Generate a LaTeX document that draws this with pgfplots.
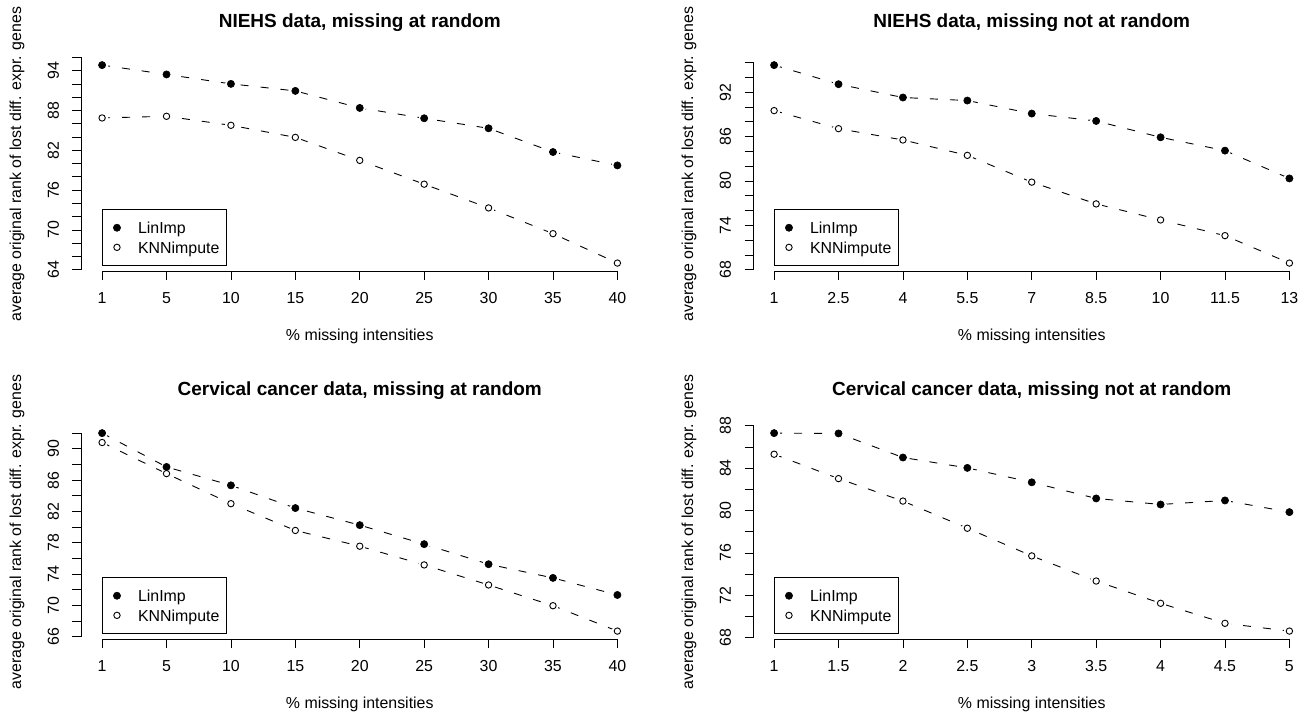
\documentclass[border=0pt]{standalone}
\usepackage{fontspec}
\setmainfont{Liberation Sans}
\usepackage{pgfplots}
\usepackage{pgfplotstable}
\pgfplotsset{compat=1.18}
\newcommand\tf{\fontsize{15.9bp}{19bp}\selectfont}

\pgfplotstableread{
x lin knn
0 94.86 86.89
1 93.45 87.14
2 92.03 85.78
3 90.97 83.96
4 88.40 80.49
5 86.84 76.90
6 85.33 73.32
7 81.75 69.44
8 79.73 65.00
}\tA
\pgfplotstableread{
x lin knn
0 95.66 89.51
1 93.08 87.07
2 91.28 85.54
3 90.87 83.46
4 89.11 79.84
5 88.11 76.90
6 85.90 74.73
7 84.10 72.61
8 80.34 68.90
}\tB
\pgfplotstableread{
x lin knn
0 92.01 90.81
1 87.69 86.84
2 85.34 83.00
3 82.44 79.58
4 80.26 77.57
5 77.83 75.18
6 75.27 72.62
7 73.52 69.97
8 71.34 66.73
}\tC
\pgfplotstableread{
x lin knn
0 87.30 85.31
1 87.27 83.01
2 85.00 80.89
3 84.02 78.33
4 82.66 75.72
5 81.14 73.35
6 80.57 71.25
7 80.95 69.36
8 79.85 68.63
}\tD

\pgfplotsset{
  rpanel/.style={
    scale only axis, width=556.5bp, height=213.8bp, anchor=south west,
    xmin=-0.32, xmax=8.32, clip=false,
    axis line style={draw=none},
    tick pos=left, tick align=outside, major tick length=9bp,
    every tick/.style={black, line width=0.8bp},
    xtick={0,...,8},
    tick label style={font=\tf, inner sep=0pt},
    xticklabel style={anchor=base, yshift=-23.7bp},
    yticklabel style={rotate=90, anchor=base},
    yticklabel shift=13.7bp,
    every axis title/.style={at={(axis description cs:0.5,1)}, anchor=base, yshift=29.7bp,
      font=\bfseries\fontsize{19bp}{23bp}\selectfont, inner sep=0pt},
    xlabel={\% missing intensities},
    every axis x label/.style={at={(axis description cs:0.5,0)}, anchor=base, yshift=-69.5bp, font=\tf, inner sep=0pt},
    ylabel={average original rank of lost diff. expr. genes},
    every axis y label/.style={at={(axis description cs:-0.1087,0.5)}, rotate=90, anchor=base, font=\tf, inner sep=0pt},
    legend style={at={(axis description cs:0.0368,0.0234)}, anchor=south west, draw=black, line width=0.8bp,
      fill=white, inner xsep=7bp, inner ysep=8.45bp, row sep=0pt, column sep=13.5bp, font=\tf,
      nodes={inner sep=0pt, text height=16bp, text depth=3.6bp}},
    legend cell align=left,
  },
  dline/.style={black, line width=0.9bp, dash pattern=on 8bp off 12bp, no marks},
  halo/.style={only marks, mark=*, mark size=5.5bp, mark options={draw=white, fill=white, line width=0pt}},
  fmark/.style={only marks, mark=*, mark size=3.6bp, mark options={draw=black, fill=black, line width=0.6bp, solid}},
  omark/.style={only marks, mark=*, mark size=3.2bp, mark options={draw=black, fill=white, line width=0.9bp, solid}},
  legimg/.style={legend image code/.code={\path[draw=none, fill=none] (0bp,0bp) -- (15.2bp,0bp); \draw[##1] plot coordinates {(7.6bp,0bp)};}},
}

\newcommand\panel[1]{%
  \addplot[dline, forget plot] table[x=x,y=lin]{#1};
  \addplot[dline, forget plot] table[x=x,y=knn]{#1};
  \addplot[halo, forget plot] table[x=x,y=lin]{#1};
  \addplot[halo, forget plot] table[x=x,y=knn]{#1};
  \addplot[fmark, forget plot] table[x=x,y=lin]{#1};
  \addplot[omark, forget plot] table[x=x,y=knn]{#1};
  \addlegendimage{fmark, legimg}
  \addlegendentry{LinImp}
  \addlegendimage{omark, legimg}
  \addlegendentry{KNNimpute}
}

\begin{document}
\begin{tikzpicture}
\path[use as bounding box] (0,0) rectangle (1307bp,715bp);

\begin{axis}[rpanel, at={(81.5bp,444bp)},
  title={NIEHS data, missing at random},
  ymin=63.806, ymax=96.054,
  xticklabels={1,5,10,15,20,25,30,35,40},
  ytick={64,66,...,96}, yticklabels={64,,,70,,,76,,,82,,,88,,,94,}]
\panel{\tA}
\draw[line width=0.8bp] (axis cs:0,63.806) -- (axis cs:8,63.806);
\draw[line width=0.8bp] (axis cs:-0.32,64) -- (axis cs:-0.32,96);
\end{axis}

\begin{axis}[rpanel, at={(753.5bp,444bp)},
  title={NIEHS data, missing not at random},
  ymin=67.830, ymax=96.730,
  xticklabels={1,2.5,4,5.5,7,8.5,10,11.5,13},
  ytick={68,70,...,96}, yticklabels={68,,,74,,,80,,,86,,,92,,}]
\panel{\tB}
\draw[line width=0.8bp] (axis cs:0,67.830) -- (axis cs:8,67.830);
\draw[line width=0.8bp] (axis cs:-0.32,68) -- (axis cs:-0.32,96);
\end{axis}

\begin{axis}[rpanel, at={(81.5bp,76bp)},
  title={Cervical cancer data, missing at random},
  ymin=65.719, ymax=93.021,
  xticklabels={1,5,10,15,20,25,30,35,40},
  ytick={66,68,...,92}, yticklabels={66,,70,,74,,78,,82,,86,,90,}]
\panel{\tC}
\draw[line width=0.8bp] (axis cs:0,65.719) -- (axis cs:8,65.719);
\draw[line width=0.8bp] (axis cs:-0.32,66) -- (axis cs:-0.32,92);
\end{axis}

\begin{axis}[rpanel, at={(753.5bp,76bp)},
  title={Cervical cancer data, missing not at random},
  ymin=67.883, ymax=88.047,
  xticklabels={1,1.5,2,2.5,3,3.5,4,4.5,5},
  ytick={68,70,...,88}, yticklabels={68,,72,,76,,80,,84,,88}]
\panel{\tD}
\draw[line width=0.8bp] (axis cs:0,67.883) -- (axis cs:8,67.883);
\draw[line width=0.8bp] (axis cs:-0.32,68) -- (axis cs:-0.32,88);
\end{axis}
\end{tikzpicture}
\end{document}
